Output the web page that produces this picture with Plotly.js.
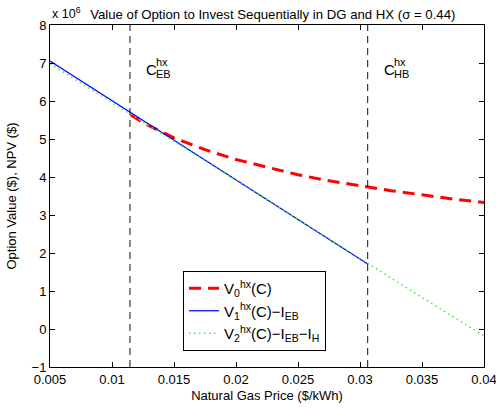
<!DOCTYPE html>
<html><head><meta charset="utf-8">
<script src="https://cdn.plot.ly/plotly-3.0.1.min.js"></script>
<style>html,body{margin:0;padding:0;background:#fff}#chart{width:496px;height:410px}</style>
</head><body><div id="chart"></div>
<script>
// Values in units of 1e6 $
var priceRed = [0.0115, 0.0125, 0.015, 0.0175, 0.02, 0.0225, 0.025, 0.0275, 0.03, 0.0325, 0.035, 0.0375, 0.04];
var optionV0 = [5.64, 5.43, 5.03, 4.72, 4.46, 4.25, 4.06, 3.90, 3.76, 3.64, 3.53, 3.42, 3.33];
var priceBlue = [0.005, 0.01, 0.015, 0.02, 0.025, 0.03062];
var npvV1 = [7.05, 6.01, 4.96, 3.92, 2.88, 1.71];
var priceGreen = [0.005, 0.01, 0.015, 0.02, 0.025, 0.03062, 0.035, 0.04];
var npvV2 = [6.98, 5.97, 4.94, 3.91, 2.88, 1.71, 0.83, -0.18];
var thresholds = [0.01145, 0.03062];
var thresholdLabels = ['EB', 'HB'];
var xTicks = [0.005, 0.01, 0.015, 0.02, 0.025, 0.03, 0.035, 0.04];
var xTickText = ['0.005', '0.01', '0.015', '0.02', '0.025', '0.03', '0.035', '0.04'];
var yTicks = [-1, 0, 1, 2, 3, 4, 5, 6, 7, 8];

var FONT = 'Liberation Sans, Arial, sans-serif';
var traces = [
  {x: priceRed, y: optionV0, mode: 'lines', name: 'V<sub>0</sub><sup>hx</sup>(C)',
   line: {color: '#ff0000', width: 3, dash: '12px,7px'}},
  {x: priceBlue, y: npvV1, mode: 'lines', name: 'V<sub>1</sub><sup>hx</sup>(C)−I<sub>EB</sub>',
   line: {color: '#0000ff', width: 1.2}},
  {x: priceGreen, y: npvV2, mode: 'lines', name: 'V<sub>2</sub><sup>hx</sup>(C)−I<sub>EB</sub>−I<sub>H</sub>',
   line: {color: '#44ee44', width: 1.6, dash: '1.5px,3.5px'}}
];
var shapes = thresholds.map(function(t){
  return {type: 'line', xref: 'x', yref: 'paper', x0: t, x1: t, y0: 0, y1: 1,
          line: {color: '#111', width: 1, dash: '7px,5px'}};
});
var annotations = [];
thresholds.forEach(function(t, i){
  annotations.push({xref: 'x', yref: 'paper', x: t, y: 0.87, xanchor: 'left', yanchor: 'middle',
    xshift: 14, text: 'C', showarrow: false, font: {family: FONT, size: 15, color: '#000'}});
  annotations.push({xref: 'x', yref: 'paper', x: t, y: 0.87, xanchor: 'left', yanchor: 'middle',
    xshift: 24, yshift: 7, text: 'hx', showarrow: false, font: {family: FONT, size: 11, color: '#000'}});
  annotations.push({xref: 'x', yref: 'paper', x: t, y: 0.87, xanchor: 'left', yanchor: 'middle',
    xshift: 24, yshift: -5, text: thresholdLabels[i], showarrow: false, font: {family: FONT, size: 11, color: '#000'}});
});
annotations.push({xref: 'paper', yref: 'paper', x: 0, y: 1, xanchor: 'left', yanchor: 'bottom', yshift: 2,
  text: 'x 10<sup>6</sup>', showarrow: false, font: {family: FONT, size: 12.5, color: '#000'}});

var axisCommon = {showline: true, linecolor: '#000', linewidth: 1, mirror: 'ticks', ticks: 'inside',
  ticklen: 5, tickcolor: '#000', showgrid: false, zeroline: false, ticklabeloverflow: 'allow',
  tickfont: {family: FONT, size: 13, color: '#000'}};
var layout = {
  width: 496, height: 410,
  margin: {l: 50, r: 12, t: 25, b: 43},
  paper_bgcolor: '#fff', plot_bgcolor: '#fff',
  font: {family: FONT, size: 12, color: '#000'},
  title: {text: 'Value of Option to Invest Sequentially in DG and HX (σ = 0.44)',
    font: {family: FONT, size: 13.2, color: '#000'}, x: 0.55, xanchor: 'center', y: 0.965, yanchor: 'middle'},
  xaxis: Object.assign({}, axisCommon, {range: [0.0049999, 0.0400001], tickvals: xTicks,
    ticktext: xTickText,
    title: {text: 'Natural Gas Price ($/kWh)', font: {family: FONT, size: 13, color: '#000'}, standoff: 5}}),
  yaxis: Object.assign({}, axisCommon, {range: [-1, 8], tickvals: yTicks,
    title: {text: 'Option Value ($), NPV ($)', font: {family: FONT, size: 13, color: '#000'}, standoff: 12}}),
  showlegend: true,
  legend: {x: 0.3065, y: 0.2807, xanchor: 'left', yanchor: 'top', bgcolor: '#fff',
    bordercolor: '#000', borderwidth: 1, font: {family: FONT, size: 15, color: '#000'},
    tracegroupgap: 0},
  shapes: shapes,
  annotations: annotations
};
Plotly.newPlot('chart', traces, layout, {displayModeBar: false, staticPlot: true});
</script></body></html>
